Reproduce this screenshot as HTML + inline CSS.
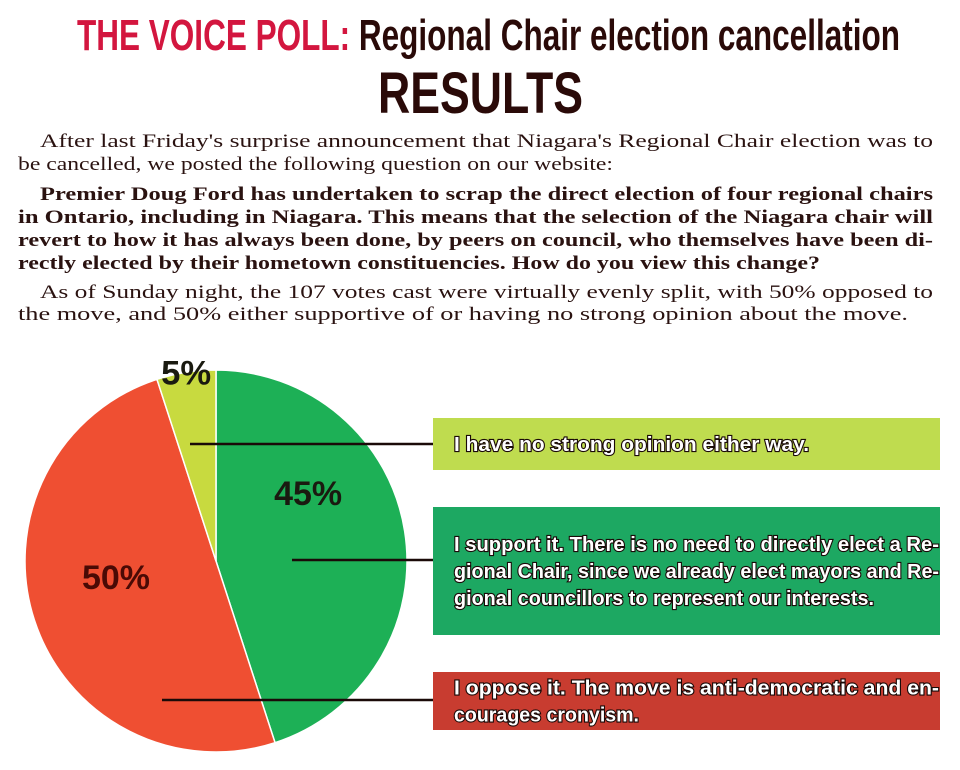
<!DOCTYPE html>
<html><head><meta charset="utf-8"><style>
html,body{margin:0;padding:0;background:#fff;width:960px;height:770px;overflow:hidden}
svg{display:block}
.ti{font-family:"Liberation Sans",sans-serif;font-weight:bold}
.bd{font-family:"Liberation Serif","DejaVu Serif",serif;font-size:19px;fill:#2a1210}
.lg{font-family:"Liberation Sans",sans-serif;font-weight:bold;font-size:20px;fill:#fff;stroke:#1a0a08;stroke-width:2.2px;paint-order:stroke}
.pl{font-family:"Liberation Sans",sans-serif;font-weight:bold;font-size:34px}
</style></head><body>
<svg id="c" width="960" height="770">
<text class="ti" x="77" y="50" font-size="44" textLength="823" lengthAdjust="spacingAndGlyphs"><tspan fill="#d3163f">THE VOICE POLL: </tspan><tspan fill="#2a0a08">Regional Chair election cancellation</tspan></text>
<text class="ti" x="378" y="113" font-size="58" fill="#2a0a08" textLength="205" lengthAdjust="spacingAndGlyphs">RESULTS</text>
<g>
<text class="bd" x="40" y="147" textLength="893" lengthAdjust="spacingAndGlyphs">After last Friday's surprise announcement that Niagara's Regional Chair election was to</text>
<text class="bd" x="18" y="170" textLength="595" lengthAdjust="spacingAndGlyphs">be cancelled, we posted the following question on our website:</text>
<text class="bd" x="40" y="200" font-weight="bold" textLength="893" lengthAdjust="spacingAndGlyphs">Premier Doug Ford has undertaken to scrap the direct election of four regional chairs</text>
<text class="bd" x="18" y="223" font-weight="bold" textLength="915" lengthAdjust="spacingAndGlyphs">in Ontario, including in Niagara. This means that the selection of the Niagara chair will</text>
<text class="bd" x="18" y="246" font-weight="bold" textLength="915" lengthAdjust="spacingAndGlyphs">revert to how it has always been done, by peers on council, who themselves have been di-</text>
<text class="bd" x="18" y="269" font-weight="bold" textLength="802" lengthAdjust="spacingAndGlyphs">rectly elected by their hometown constituencies. How do you view this change?</text>
<text class="bd" x="40" y="298" textLength="893" lengthAdjust="spacingAndGlyphs">As of Sunday night, the 107 votes cast were virtually evenly split, with 50% opposed to</text>
<text class="bd" x="18" y="320" textLength="890" lengthAdjust="spacingAndGlyphs">the move, and 50% either supportive of or having no strong opinion about the move.</text>
</g>
<g id="pie"></g>
</svg>
<script>
const categories=["I support it","I oppose it","No strong opinion"];
const values=[45,50,5];
const labels=["45%","50%","5%"];
const ns="http://www.w3.org/2000/svg";
const svg=document.getElementById('pie');
const cx=216,cy=561,r=191;
const colors=["#1db056","#ef4f32","#c8da3f"];
const total=values.reduce((a,b)=>a+b,0);
function pt(a,rr){return [cx+rr*Math.sin(a),cy-rr*Math.cos(a)];}
let a0=0;const mids=[];
values.forEach((v,i)=>{
  const a1=a0+v/total*2*Math.PI;
  const p0=pt(a0,r),p1=pt(a1,r);
  const large=(a1-a0)>Math.PI?1:0;
  const p=document.createElementNS(ns,'path');
  p.setAttribute('d',`M${cx},${cy}L${p0[0]},${p0[1]}A${r},${r} 0 ${large} 1 ${p1[0]},${p1[1]}Z`);
  p.setAttribute('fill',colors[i]);p.setAttribute('stroke','#fff');p.setAttribute('stroke-width','1.5');
  
  
  svg.appendChild(p);
  mids.push([a0,a1]);a0=a1;
});
// labels
const labelPos=[[0.42,0.5],[0.55,0.5],[1.02,0.5]];
values.forEach((v,i)=>{
  const m=(mids[i][0]+mids[i][1])/2;
  let rr=i===2?r*1.0:r*0.62;
  let q=pt(m,rr);
  if(i===0){q=pt(mids[i][0]+(mids[i][1]-mids[i][0])*0.33,r*0.6);}
  if(i===1){q=pt(mids[i][0]+(mids[i][1]-mids[i][0])*0.55,r*0.53);}
  const t=document.createElementNS(ns,'text');
  t.setAttribute('class','pl');t.setAttribute('x',q[0]);t.setAttribute('y',q[1]+12);
  t.setAttribute('text-anchor','middle');t.setAttribute('fill',i===1?'#4a0a05':'#1a1a10');
  t.setAttribute('textLength',i===2?'50':'68');t.setAttribute('lengthAdjust','spacingAndGlyphs');
  t.textContent=labels[i];
  
  
  svg.appendChild(t);
});
// legend boxes
const boxes=[
 {i:2,y:418,h:52,fill:"#bfdc4f",lx:190,ly:444,lines:[["I have no strong opinion either way.",355]]},
 {i:0,y:507,h:128,fill:"#1da862",lx:292,ly:560,lines:[["I support it. There is no need to directly elect a Re-",485],["gional Chair, since we already elect mayors and Re-",485],["gional councillors to represent our interests.",420]]},
 {i:1,y:672,h:58,fill:"#c83c30",lx:162,ly:700,lines:[["I oppose it. The move is anti-democratic and en-",485],["courages cronyism.",185]]}
];
boxes.forEach((b,k)=>{
  const rc=document.createElementNS(ns,'rect');
  rc.setAttribute('x',433);rc.setAttribute('y',b.y);rc.setAttribute('width',507);rc.setAttribute('height',b.h);rc.setAttribute('fill',b.fill);
  
  
  svg.appendChild(rc);
  const ln=document.createElementNS(ns,'line');
  ln.setAttribute('x1',b.lx);ln.setAttribute('y1',b.ly);ln.setAttribute('x2',433);ln.setAttribute('y2',b.ly);
  ln.setAttribute('stroke','#1a0a08');ln.setAttribute('stroke-width','2.5');
  
  
  svg.appendChild(ln);
  const n=b.lines.length;const y0=b.y+b.h/2-(n-1)*13.5;
  b.lines.forEach((l,j)=>{
    const t=document.createElementNS(ns,'text');
    t.setAttribute('class','lg');t.setAttribute('x',454);t.setAttribute('y',y0+j*27+7);
    t.setAttribute('textLength',l[1]);t.setAttribute('lengthAdjust','spacingAndGlyphs');
    t.textContent=l[0];
    
    
    svg.appendChild(t);
  });
});
</script>
</body></html>
